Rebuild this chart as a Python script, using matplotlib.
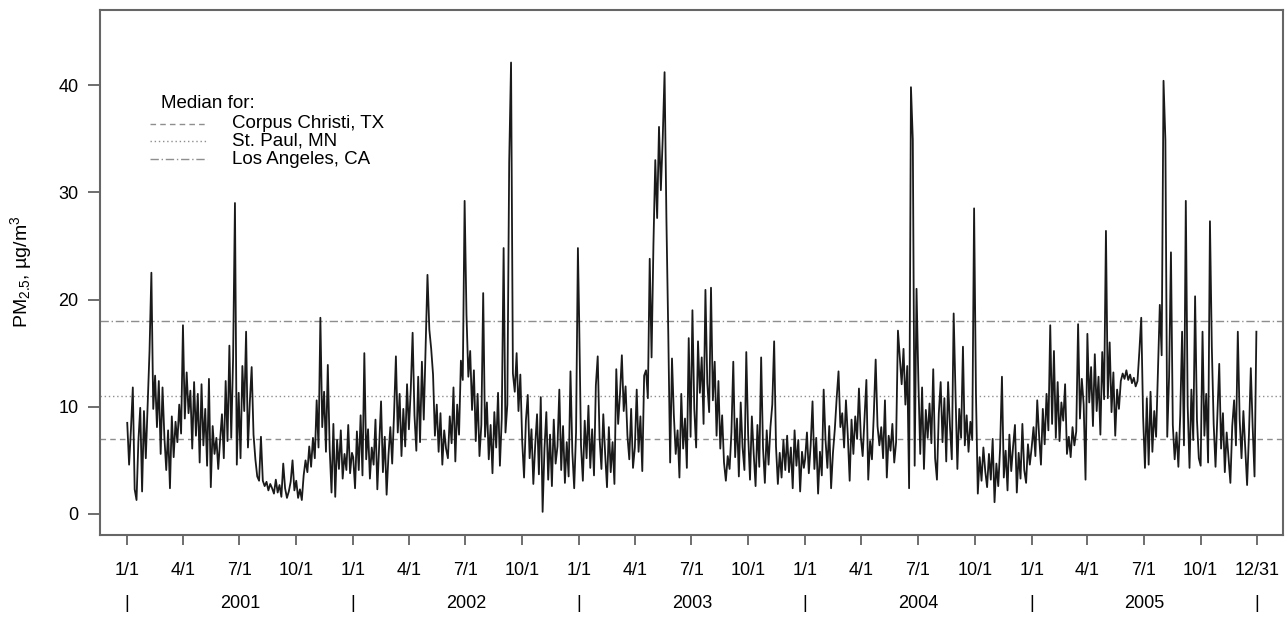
import numpy as np
import matplotlib
matplotlib.use("Agg")
import matplotlib.pyplot as plt

plt.rcParams['font.family'] = ['Liberation Sans', 'DejaVu Sans']
plt.rcParams['mathtext.fontset'] = 'custom'
plt.rcParams['mathtext.rm'] = 'Liberation Sans'
plt.rcParams['mathtext.it'] = 'Liberation Sans:italic'

# PM2.5 readings, one every 3 days from Jan 1 of each year
pm_2001 = [8.5, 4.6, 7.9, 11.8, 2.3, 1.3, 6.8, 9.9, 2.1, 9.6, 5.2,
           10.1, 15.2, 22.5, 9.8, 12.9, 8.1, 12.4, 5.6, 11.8,
           7.2, 4.1, 7.8, 2.4, 9.1, 5.3, 8.6, 6.7, 10.2, 7.5,
           17.6, 8.9, 13.2, 9.4, 11.5, 6.1, 12.3, 7.3, 11.2, 4.8,
           12.1, 6.4, 9.8, 4.5, 12.6, 2.5, 8.2, 5.6, 7.1, 4.2, 6.9,
           9.3, 5.2, 12.4, 6.8, 15.7, 7.1, 14.5, 29.0, 4.6, 11.3,
           5.2, 13.8, 9.6, 17.0, 6.2, 10.4, 13.7, 7.4, 5.1, 3.5,
           3.1, 7.2, 3.1, 2.6, 3.0, 2.2, 2.8, 2.4, 1.9, 3.2,
           2.0, 2.7, 1.6, 4.7, 2.4, 1.5, 2.1, 3.0, 5.0, 2.2,
           3.1, 1.5, 2.3, 1.3, 3.6, 5.0, 3.9, 6.3, 4.4, 7.1, 5.2,
           10.6, 6.2, 18.3, 8.1, 11.4, 5.8, 13.9, 6.1, 2.0, 8.4,
           1.6, 6.9, 4.2, 7.8, 3.3, 5.6, 4.1, 8.3, 3.8, 5.7]
pm_2002 = [5.3, 2.4, 7.7, 4.1, 9.2, 3.6, 15.0, 5.1, 7.9, 3.3, 6.2,
           4.6, 8.8, 2.3, 6.4, 10.5, 3.9, 7.2, 1.8, 5.5,
           8.1, 4.7, 9.3, 14.7, 7.6, 11.2, 5.4, 9.8, 6.3, 12.1,
           7.9, 11.6, 16.9, 9.2, 5.9, 12.8, 6.7, 14.2, 8.8, 15.6,
           22.3, 17.2, 15.4, 13.0, 7.3, 10.2, 5.8, 9.4, 4.6, 7.8, 6.1,
           5.2, 9.1, 6.6, 11.8, 4.9, 10.2, 7.4, 14.3, 12.5, 29.2,
           18.6, 12.8, 15.2, 9.7, 13.4, 6.8, 11.2, 5.4, 8.3, 20.6,
           7.2, 10.4, 5.1, 8.3, 3.8, 9.5, 6.2, 11.3, 4.5, 8.9,
           24.8, 7.6, 10.2, 32.8, 42.1, 13.1, 11.4, 15.0, 9.6, 13.0,
           6.8, 3.4, 8.7, 11.1, 5.2, 7.9, 2.8, 6.4, 9.3, 3.7, 10.9,
           0.2, 6.1, 9.5, 3.2, 7.4, 2.6, 8.8, 4.7, 6.3, 11.6,
           4.1, 8.2, 2.9, 6.7, 3.5, 13.3, 5.8, 2.4, 7.6, 24.8]
pm_2003 = [18.2, 6.4, 3.1, 8.7, 5.2, 10.1, 4.3, 7.9, 3.6, 12.0, 14.7,
           7.1, 4.2, 9.3, 5.6, 2.5, 8.1, 3.9, 6.7, 2.8,
           13.5, 8.4, 11.2, 14.8, 9.6, 11.9, 7.3, 5.1, 9.8, 4.3,
           6.2, 11.6, 5.8, 9.1, 4.0, 12.9, 13.4, 10.8, 23.8, 14.6,
           25.1, 33.0, 27.6, 36.1, 30.2, 35.0, 41.2, 27.4, 16.8, 4.8, 14.5,
           9.2, 5.6, 7.8, 3.4, 11.2, 6.1, 8.9, 4.3, 16.4, 7.2,
           19.0, 9.8, 6.2, 16.1, 11.3, 14.6, 8.4, 20.9, 12.2, 9.5,
           21.1, 10.6, 14.2, 7.3, 12.4, 6.1, 9.2, 4.8, 3.1, 5.4,
           4.2, 7.6, 14.2, 5.3, 8.9, 3.5, 10.4, 6.2, 4.1, 15.1,
           7.4, 3.2, 9.1, 5.6, 2.6, 8.3, 4.4, 14.6, 6.2, 2.9, 7.8,
           4.6, 8.1, 10.2, 16.1, 6.3, 2.8, 5.7, 3.4, 6.9, 4.1,
           7.3, 3.9, 6.2, 2.4, 7.8, 4.5, 6.9, 2.1, 5.8, 4.3]
pm_2004 = [5.1, 7.6, 3.8, 6.4, 10.5, 4.2, 7.1, 1.9, 5.8, 3.6, 11.6,
           6.9, 4.3, 8.2, 2.4, 5.7, 7.9, 10.8, 13.3, 8.1,
           9.4, 6.2, 10.6, 7.3, 3.1, 8.8, 5.6, 9.1, 7.0, 11.7,
           7.2, 5.4, 8.9, 12.5, 3.2, 6.8, 5.1, 9.3, 14.4, 8.2,
           6.4, 8.1, 5.2, 10.6, 3.4, 7.3, 5.9, 8.4, 4.8, 6.7, 17.1,
           14.6, 12.1, 15.4, 10.2, 13.8, 2.4, 39.8, 34.9, 4.5, 21.0,
           12.4, 5.6, 11.8, 4.2, 9.7, 7.1, 10.3, 6.6, 13.5, 5.2,
           3.2, 9.4, 12.3, 6.7, 10.8, 4.9, 12.3, 8.2, 5.1, 18.7,
           11.2, 4.2, 9.8, 7.1, 15.6, 6.4, 9.2, 5.8, 8.6, 6.9,
           28.5, 11.2, 1.9, 5.3, 3.1, 6.2, 4.0, 2.5, 5.6, 3.2, 7.0,
           1.1, 4.7, 2.6, 6.1, 12.8, 3.4, 5.9, 2.2, 7.4, 4.0,
           6.3, 8.3, 2.0, 5.7, 3.3, 8.4, 4.1, 2.9, 6.5, 4.6]
pm_2005 = [6.2, 8.1, 5.4, 10.6, 7.3, 4.6, 9.8, 6.5, 11.2, 7.8, 17.6,
           8.4, 15.2, 7.1, 12.3, 6.8, 10.4, 8.7, 12.1, 5.6,
           7.2, 5.3, 8.1, 6.4, 7.7, 17.7, 8.9, 12.6, 10.2, 3.2,
           16.8, 10.4, 13.7, 8.2, 14.9, 9.6, 12.8, 7.4, 15.1, 10.7,
           26.4, 10.8, 16.0, 9.5, 13.2, 7.3, 11.6, 9.8, 12.4, 13.1, 12.6,
           13.4, 12.5, 13.0, 12.2, 12.7, 11.9, 12.4, 15.2, 18.3, 9.1,
           4.3, 10.8, 4.6, 11.4, 5.8, 9.6, 7.2, 13.4, 19.5, 14.8,
           40.4, 34.9, 7.2, 12.8, 24.4, 8.3, 5.1, 7.6, 4.4, 9.2,
           17.0, 6.4, 29.2, 10.1, 4.3, 11.6, 6.9, 20.3, 8.8, 5.2,
           4.5, 17.0, 7.3, 11.2, 4.8, 27.3, 15.6, 8.4, 4.4, 9.1, 14.0,
           6.1, 9.4, 3.9, 7.6, 5.3, 2.9, 8.2, 10.6, 6.4, 17.0,
           8.8, 5.2, 9.6, 6.1, 2.7, 7.4, 13.6, 8.1, 3.5, 17.0]

years = [2001, 2002, 2003, 2004, 2005]
series = [pm_2001, pm_2002, pm_2003, pm_2004, pm_2005]

# medians for the three comparison cities
median_names = ['Corpus Christi, TX', 'St. Paul, MN', 'Los Angeles, CA']
median_values = [7.0, 11.0, 18.0]
median_styles = [(0, (4, 3)), (0, (1, 2)), (0, (6, 2, 1, 2))]
med_color = '#8e8e8e'

dates = []
values = []
for yr, vals in zip(years, series):
    start = np.datetime64('%d-01-01' % yr)
    dates.append(start + np.arange(len(vals)) * 3)
    values.append(vals)
dates = np.concatenate(dates)
values = np.concatenate(values)

fig = plt.figure(figsize=(12.88, 6.25), dpi=100)
ax = fig.add_axes([100 / 1288, 1 - 535 / 625, 1183 / 1288, 525 / 625])

ax.plot(dates, values, color='#1a1a1a', lw=1.3)

for val, ls in zip(median_values, median_styles):
    ax.axhline(val, color=med_color, lw=1.0, ls=ls, zorder=0)

# legend drawn by hand (positions in axes fractions)
def axfx(px):
    return (px - 100) / 1183.0

def axfy(py):
    return (535 - py) / 525.0

ax.text(axfx(161), axfy(103), 'Median for:', transform=ax.transAxes,
        fontsize=13.5, ha='left', va='center')
for k, (name, ls) in enumerate(zip(median_names, median_styles)):
    yy = axfy([124, 141, 159][k])
    ax.plot([axfx(150), axfx(207)], [yy, yy], transform=ax.transAxes,
            color=med_color, lw=1.0, ls=ls)
    ax.text(axfx(232), yy, name, transform=ax.transAxes, fontsize=13.5,
            ha='left', va='center')

t0 = np.datetime64('2001-01-01')
ax.set_xlim(t0 - np.timedelta64(44, 'D'), t0 + np.timedelta64(1867, 'D'))
ax.set_ylim(-1.96, 47.0)

tick_pos = []
tick_lab = []
for yr in years:
    for m in (1, 4, 7, 10):
        tick_pos.append(np.datetime64('%d-%02d-01' % (yr, m)))
        tick_lab.append('%d/1' % m)
tick_pos.append(np.datetime64('2005-12-31'))
tick_lab.append('12/31')
ax.set_xticks(tick_pos)
ax.set_xticklabels(tick_lab)
ax.set_yticks([0, 10, 20, 30, 40])

ax.tick_params(axis='both', labelsize=13, width=1.2, color='#555555')
ax.tick_params(axis='x', length=7.5, pad=12)
ax.tick_params(axis='y', length=8.5, pad=7)
for sp in ax.spines.values():
    sp.set_color('#666666')
    sp.set_linewidth(1.5)

ax.set_ylabel(r'PM$_{2.5}$, µg/m$^3$', fontsize=14)
ax.yaxis.set_label_coords(axfx(34), axfy(272))

# year row under the month ticks
xt = ax.get_xaxis_transform()
yrow = axfy(603)
for yr in years:
    ax.text(np.datetime64('%d-01-01' % yr), yrow, '|', transform=xt,
            ha='center', va='center', fontsize=13)
    ax.text(np.datetime64('%d-07-02' % yr), yrow, str(yr), transform=xt,
            ha='center', va='center', fontsize=13)
ax.text(np.datetime64('2005-12-31'), yrow, '|', transform=xt,
        ha='center', va='center', fontsize=13)

fig.savefig('out.png', dpi=100)
